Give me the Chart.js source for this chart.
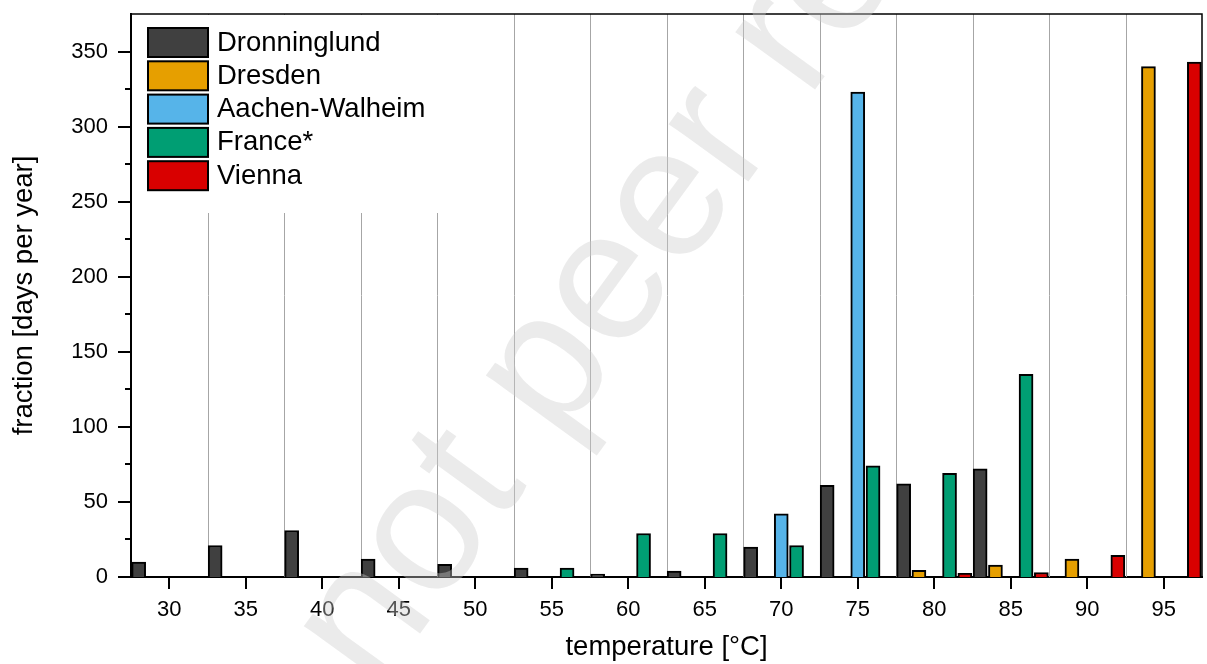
<!DOCTYPE html>
<html>
<head>
<meta charset="utf-8">
<script src="https://cdn.jsdelivr.net/npm/chart.js@4.4.0/dist/chart.umd.min.js"></script>
<style>
    html, body { margin: 0; padding: 0; background: #fff; }
    #wrap { width: 1207px; height: 664px; }
</style>
</head>
<body>
<div id="wrap"><canvas id="chart"></canvas></div>
<script>
// temperature bins, centre of each 5 °C class
const categories = [30, 35, 40, 45, 50, 55, 60, 65, 70, 75, 80, 85, 90, 95];

// days per year in each bin (null = no bar)
const dronninglund = [10, 21, 31, 12, 8.5, 6, 2, 4, 20, 61, 62, 72, null, null];
const dresden      = [null, null, null, null, null, null, null, null, null, null, 4.5, 8, 12, 340];
const aachen       = [null, null, null, null, null, null, null, null, 42, 323, null, null, null, null];
const france       = [null, null, null, null, null, 6, 29, 29, 21, 74, 69, 135, null, null];
const vienna       = [null, null, null, null, null, null, null, null, null, null, 2.5, 3, 14.5, 343];

const seriesNames = ['Dronninglund', 'Dresden', 'Aachen-Walheim', 'France*', 'Vienna'];
const seriesValues = [dronninglund, dresden, aachen, france, vienna];
const seriesColors = ['#404040', '#e69f00', '#56b4e9', '#009e73', '#d90000'];

const yTicks = [0, 50, 100, 150, 200, 250, 300, 350];

const FONT = "'Liberation Sans', Arial, Helvetica, sans-serif";
Chart.defaults.font.family = FONT;
Chart.defaults.color = '#000';

// each series sits in its own 1 °C slot inside the bin: -2 .. +2
function buildDataset(values, s) {
    const points = [];
    categories.forEach((c, i) => {
        if (values[i] !== null) points.push({ x: c - 2 + s, y: values[i] });
    });
    return {
        label: seriesNames[s],
        data: points,
        backgroundColor: seriesColors[s],
        borderColor: '#000',
        borderWidth: 2,
        barThickness: 14,
        grouped: false
    };
}

// bin borders + white box behind the legend
const binLines = {
    id: 'binLines',
    beforeDatasetsDraw(chart) {
        const { ctx, chartArea, scales } = chart;
        ctx.save();
        ctx.strokeStyle = '#a6a6a6';
        ctx.lineWidth = 1;
        categories.slice(0, -1).forEach(c => {
            const px = Math.round(scales.x.getPixelForValue(c + 2.5)) + 0.5;
            ctx.beginPath();
            ctx.moveTo(px, chartArea.top);
            ctx.lineTo(px, chartArea.bottom);
            ctx.stroke();
        });
        ctx.fillStyle = '#fff';
        ctx.fillRect(chartArea.left + 1, chartArea.top + 1, 320, 198);
        ctx.restore();
    }
};

const boxLegend = {
    id: 'boxLegend',
    afterDatasetsDraw(chart) {
        const { ctx, chartArea } = chart;
        ctx.save();
        ctx.font = '27.5px ' + FONT;
        ctx.textBaseline = 'middle';
        ctx.textAlign = 'left';
        seriesNames.forEach((name, s) => {
            const x = chartArea.left + 17;
            const y = chartArea.top + 14 + s * 33.3;
            ctx.fillStyle = seriesColors[s];
            ctx.fillRect(x, y, 60, 29);
            ctx.strokeStyle = '#000';
            ctx.lineWidth = 2;
            ctx.strokeRect(x, y, 60, 29);
            ctx.fillStyle = '#000';
            ctx.fillText(name, x + 69, y + 15);
        });
        ctx.restore();
    }
};

// outward tick marks, frame on top and right
const frameTicks = {
    id: 'frameTicks',
    afterDraw(chart) {
        const { ctx, chartArea, scales } = chart;
        ctx.save();
        ctx.strokeStyle = '#000';
        ctx.lineWidth = 2;
        ctx.beginPath();
        categories.forEach(c => {
            const px = Math.round(scales.x.getPixelForValue(c));
            ctx.moveTo(px, chartArea.bottom);
            ctx.lineTo(px, chartArea.bottom + 12);
        });
        yTicks.forEach(v => {
            const py = Math.round(scales.y.getPixelForValue(v));
            ctx.moveTo(chartArea.left, py);
            ctx.lineTo(chartArea.left - 13, py);
            if (v < 350) {
                const pm = Math.round(scales.y.getPixelForValue(v + 25));
                ctx.moveTo(chartArea.left, pm);
                ctx.lineTo(chartArea.left - 6, pm);
            }
        });
        ctx.stroke();

        ctx.lineWidth = 1.5;
        ctx.beginPath();
        ctx.moveTo(chartArea.left, chartArea.top);
        ctx.lineTo(chartArea.right, chartArea.top);
        ctx.lineTo(chartArea.right, chartArea.bottom);
        ctx.stroke();
        ctx.restore();
    }
};

const watermark = {
    id: 'watermark',
    afterDraw(chart) {
        const ctx = chart.ctx;
        ctx.save();
        ctx.font = '186px ' + FONT;
        ctx.fillStyle = 'rgba(205, 205, 205, 0.4)';
        ctx.textBaseline = 'alphabetic';
        ctx.translate(376, 694);
        ctx.rotate(-54 * Math.PI / 180);
        const lead = ctx.measureText('Preprint ').width;
        ctx.fillText('Preprint not peer reviewed', -lead, 0);
        ctx.restore();
    }
};

new Chart(document.getElementById('chart'), {
    type: 'bar',
    data: {
        datasets: seriesValues.map(buildDataset)
    },
    plugins: [binLines, boxLegend, frameTicks, watermark],
    options: {
        responsive: true,
        maintainAspectRatio: false,
        animation: false,
        layout: {
            padding: { top: 14, right: 5, left: 0, bottom: 0 }
        },
        plugins: {
            legend: { display: false },
            tooltip: { enabled: false }
        },
        scales: {
            x: {
                type: 'linear',
                offset: false,
                min: 27.5,
                max: 97.5,
                afterBuildTicks: (scale) => {
                    scale.ticks = categories.map(v => ({ value: v }));
                },
                afterFit: (scale) => {
                    scale.height = 87;
                    scale.paddingLeft = 0;
                    scale.paddingRight = 0;
                },
                grid: { display: false, drawTicks: false },
                border: { display: true, color: '#000', width: 2 },
                ticks: {
                    font: { size: 22 },
                    color: '#000',
                    padding: 20,
                    maxRotation: 0,
                    autoSkip: false
                },
                title: {
                    display: true,
                    text: 'temperature [°C]',
                    font: { size: 27.5 },
                    color: '#000',
                    padding: { top: 0, bottom: 0 }
                }
            },
            y: {
                min: 0,
                max: 375,
                afterFit: (scale) => {
                    scale.width = 131;
                    scale.paddingTop = 0;
                    scale.paddingBottom = 0;
                },
                grid: { display: false, drawTicks: false },
                border: { display: true, color: '#000', width: 2 },
                ticks: {
                    stepSize: 50,
                    includeBounds: false,
                    font: { size: 22 },
                    color: '#000',
                    padding: 23
                },
                title: {
                    display: true,
                    text: 'fraction [days per year]',
                    font: { size: 27.5 },
                    color: '#000',
                    padding: { top: 8, bottom: 0 }
                }
            }
        }
    }
});
</script>
</body>
</html>
